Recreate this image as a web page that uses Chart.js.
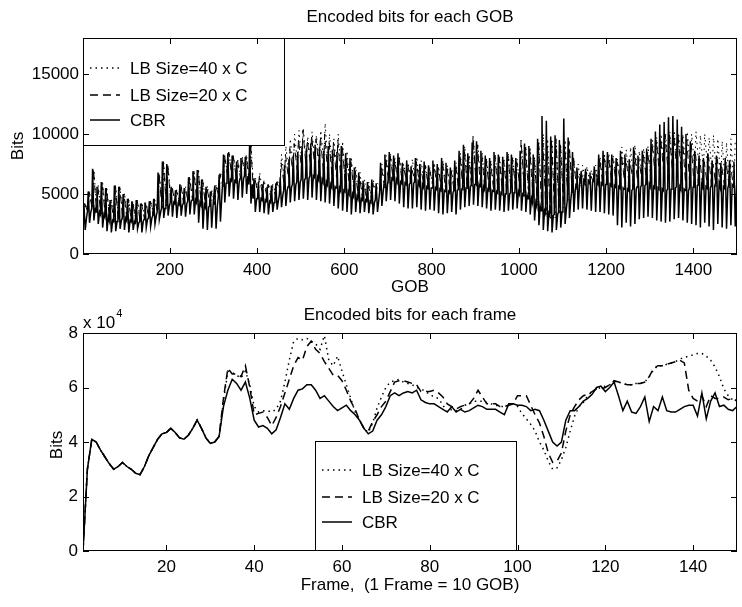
<!DOCTYPE html>
<html>
<head>
<meta charset="utf-8">
<script src="https://cdn.jsdelivr.net/npm/chart.js@4.4.1/dist/chart.umd.min.js"></script>
<style>
  body { margin: 0; background: #fff; }
  #gobWrap { position: absolute; left: 0; top: 0; width: 742px; height: 300px; }
  #frameWrap { position: absolute; left: 0; top: 300px; width: 742px; height: 307px; }
</style>
</head>
<body>
<div id="gobWrap"><canvas id="gobChart" width="742" height="300"></canvas></div>
<div id="frameWrap"><canvas id="frameChart" width="742" height="307"></canvas></div>
<script>
// ---- top plot: bits per GOB, read per frame (10 GOB each) ----
const gobTicksX = [200, 400, 600, 800, 1000, 1200, 1400];
const gobTicksY = [0, 5000, 10000, 15000];

// CBR spike tops, band level and spike bottoms for each frame
const cbrGobHigh = [
  4200, 5200, 7100, 5600, 6000, 5500, 4500, 5700, 5600, 5000,
  4600, 4400, 4500, 4200, 4300, 4400, 4600, 6800, 7700, 7500,
  5600, 5300, 5800, 5500, 6400, 6900, 7000, 6200, 5600, 5200,
  5700, 6600, 8300, 8400, 8200, 7700, 8000, 8100, 9300, 6300,
  6000, 5800, 5600, 5700, 5900, 6400, 7400, 7900, 8200, 8500,
  9000, 8800, 9200, 9100, 8900, 8600, 9000, 8700, 8500, 9000,
  8400, 8000, 7200, 6800, 6100, 6000, 6200, 5900, 7600, 8300,
  8500, 8200, 8400, 7600, 7800, 7300, 8000, 7500, 7700, 7400,
  7800, 7500, 8000, 7600, 7200, 7800, 8600, 9100, 8400, 9300,
  9400, 8600, 8200, 8000, 8500, 8300, 8100, 8500, 8300, 8000,
  8600, 9200, 9000, 8300, 9600, 11500, 11100, 9800, 9900, 9500,
  11300, 9700, 8500, 7200, 6900, 7100, 6800, 7300, 8300, 8600,
  8500, 8300, 8000, 8600, 8300, 7900, 8900, 8200, 8600, 8800,
  9600, 10200, 10800, 11000, 11400, 11500, 11200, 10600, 10000, 9400,
  8600, 8200, 8000, 8400, 7800, 8200, 7600, 8000, 7800, 7700
];
const cbrGobBand = [
  3000, 3500, 3800, 3500, 3300, 3100, 2800, 2700, 2800, 3000,
  2800, 2700, 2600, 2700, 2900, 3000, 3200, 3500, 3800, 4000,
  4300, 4200, 4100, 4200, 4400, 4500, 4300, 4100, 3900, 4000,
  4000, 4700, 5900, 6200, 6100, 6000, 6300, 6500, 5800, 4600,
  4600, 4500, 4400, 4300, 4500, 4900, 5300, 5600, 5800, 6000,
  6200, 6300, 6500, 6400, 6200, 6000, 5800, 5600, 5500, 5300,
  5200, 5000, 4800, 4600, 4500, 4400, 4300, 4500, 5200, 5800,
  6300, 6200, 6000, 5900, 5800, 5900, 6000, 5800, 5600, 5500,
  5500, 5400, 5300, 5200, 5100, 5300, 5400, 5500, 5600, 5800,
  5800, 5600, 5400, 5300, 5200, 5100, 5000, 5000, 5100, 5200,
  5000, 4900, 4600, 4300, 4000, 3600, 3400, 3200, 3300, 3500,
  3800, 4500, 5200, 5800, 6200, 6100, 6000, 6100, 5900, 5800,
  5800, 5700, 5600, 5500, 5400, 5300, 5400, 5600, 5700, 5800,
  5600, 5500, 5400, 5300, 5400, 5500, 5600, 5400, 5300, 5500,
  5700, 5800, 5600, 5500, 5700, 5900, 5600, 5500, 5800, 5700
];
const cbrGobLow = [
  2000, 2600, 2800, 2500, 2200, 1900, 1800, 1900, 2100, 2000,
  1800, 2000, 2100, 1800, 2200, 2300, 2500, 2900, 3000, 3200,
  3100, 3000, 3200, 3100, 3300, 3300, 2600, 2100, 2000, 2200,
  2100, 2700, 4300, 4800, 4600, 4500, 4700, 5000, 4200, 3500,
  3500, 3400, 3300, 3500, 3700, 3900, 4000, 4300, 4400, 4500,
  4600, 4500, 4700, 4500, 4400, 4300, 4200, 4000, 3800, 3600,
  3500, 3300, 3500, 3400, 3500, 3400, 3300, 3500, 4000, 4400,
  4500, 4400, 4200, 3900, 3800, 3800, 3900, 3700, 3600, 3700,
  3600, 3400, 3300, 3400, 3500, 3300, 3700, 3900, 4000, 4100,
  4000, 3900, 3800, 3600, 3700, 3600, 3500, 3600, 3700, 3800,
  3600, 3500, 3300, 2800, 2400, 2000, 1900, 1800, 2000, 2200,
  2500, 3000, 3500, 3700, 3800, 3700, 3600, 3500, 3500, 3400,
  3300, 3200, 2400, 2200, 2600, 2300, 2500, 2900, 3000, 3100,
  3000, 2800, 2700, 2600, 2700, 2900, 3000, 2800, 2600, 2500,
  2400, 2200, 2600, 2300, 2000, 2500, 2200, 2100, 2400, 2300
];

// LB 40 x C spike tops and spike bottoms per frame
const lb40GobHigh = [
  4200, 5100, 7000, 5700, 5900, 5400, 4600, 5600, 5500, 5100,
  4500, 4300, 4400, 4300, 4200, 4500, 4500, 6700, 7600, 7400,
  5500, 5400, 5700, 5600, 6300, 6800, 6900, 6100, 5700, 5300,
  5800, 6700, 8200, 8500, 8100, 7800, 8100, 8200, 9200, 6400,
  6800, 6200, 5900, 5800, 6200, 8300, 9000, 9600, 10000, 10300,
  10500, 9800, 10200, 9900, 10300, 10900, 10000, 9600, 10000, 9400,
  8600, 8100, 7300, 6800, 6200, 6000, 6200, 5900, 7500, 8200,
  8300, 8000, 8200, 7500, 7600, 7900, 8100, 7800, 7500, 7200,
  7600, 7300, 7800, 7400, 7100, 7600, 8400, 9000, 8300, 9600,
  9200, 8400, 8000, 7800, 8300, 8100, 7900, 8300, 8100, 7900,
  9200, 9000, 8800, 8100, 9300, 10000, 9600, 9400, 9200, 9000,
  9500, 8800, 7800, 7500, 7400, 7300, 7000, 7400, 8100, 8400,
  8400, 8200, 7900, 8900, 8700, 8900, 9100, 8600, 8800, 9000,
  9500, 9700, 10000, 10100, 10200, 10300, 10100, 10000, 10200, 10000,
  10200, 9900, 10000, 9700, 9900, 9600, 9400, 9300, 9600, 9500
];
const lb40GobBase = [
  3000, 3500, 3800, 3500, 3300, 3100, 2800, 2700, 2800, 3000,
  2800, 2700, 2600, 2700, 2900, 3000, 3200, 3500, 3800, 4000,
  4300, 4200, 4100, 4200, 4400, 4500, 4300, 4100, 3900, 4000,
  4100, 5000, 6300, 6400, 6300, 6200, 6400, 6600, 6000, 5000,
  5000, 5000, 4900, 4800, 5000, 5300, 6000, 6600, 7200, 7400,
  7500, 7400, 7600, 7500, 7300, 7600, 7000, 6800, 7000, 6400,
  5800, 5400, 5000, 4600, 4400, 4300, 4600, 5100, 5600, 6000,
  6200, 6300, 6200, 6100, 6100, 6000, 5900, 5800, 5700, 5600,
  5500, 5400, 5300, 5100, 5100, 5200, 5300, 5400, 5400, 5500,
  5500, 5500, 5400, 5400, 5300, 5300, 5300, 5300, 5400, 5300,
  5000, 4800, 4600, 4300, 4000, 3600, 3300, 3000, 3000, 3300,
  3800, 4400, 5000, 5300, 5400, 5700, 5800, 5900, 6000, 6000,
  6100, 6200, 6200, 6100, 6100, 6100, 6100, 6100, 6200, 6400,
  6600, 6800, 6800, 6800, 6900, 6900, 7000, 7100, 7100, 7200,
  7200, 7200, 7100, 7000, 6700, 6400, 6000, 5700, 5500, 5500
];

// LB 20 x C spike tops and spike bottoms per frame
const lb20GobHigh = [
  4200, 5200, 7100, 5600, 6000, 5500, 4500, 5700, 5600, 5000,
  4600, 4400, 4500, 4200, 4300, 4400, 4600, 6800, 7700, 7500,
  5600, 5300, 5800, 5500, 6400, 6900, 7000, 6200, 5600, 5200,
  5700, 6700, 8300, 8500, 8300, 7800, 8000, 8200, 9300, 6300,
  6400, 6000, 5800, 5700, 6000, 7600, 8300, 8800, 9200, 9600,
  10300, 9500, 9900, 9600, 9800, 10000, 9400, 9300, 9500, 9100,
  8100, 7700, 6900, 6500, 5800, 5700, 5900, 5600, 7300, 8000,
  8200, 7900, 8100, 7300, 7500, 7000, 7700, 7200, 7400, 7100,
  7500, 7200, 7700, 7300, 6900, 7500, 8300, 8800, 8100, 9800,
  9100, 8300, 7900, 7700, 8200, 8000, 7800, 8200, 8000, 7700,
  9500, 8900, 8700, 8000, 9300, 9200, 9000, 9500, 9600, 9200,
  9000, 9400, 8200, 6900, 6600, 6800, 6500, 7000, 8000, 8300,
  8200, 8000, 7700, 8300, 8000, 7600, 8600, 7900, 8300, 8500,
  9300, 9500, 9700, 9900, 10000, 10000, 9800, 9700, 9500, 9200,
  8300, 7900, 7700, 8100, 7500, 7900, 7300, 7700, 7500, 7400
];
const lb20GobBase = [
  3000, 3500, 3800, 3500, 3300, 3100, 2800, 2700, 2800, 3000,
  2800, 2700, 2600, 2700, 2900, 3000, 3200, 3500, 3800, 4000,
  4300, 4200, 4100, 4200, 4400, 4500, 4300, 4100, 3900, 4000,
  4100, 4900, 5600, 6600, 6400, 6400, 6300, 6700, 6000, 5000,
  5000, 5100, 4900, 4600, 4900, 5300, 5800, 6300, 6800, 7000,
  7000, 7400, 7600, 7300, 7200, 6900, 6700, 6400, 6400, 6200,
  5900, 5500, 5200, 4800, 4500, 4400, 4700, 5000, 5300, 5500,
  5800, 6200, 6200, 6200, 6200, 6100, 6100, 5800, 5800, 5800,
  5900, 5800, 5600, 5400, 5300, 5200, 5300, 5300, 5400, 5600,
  5800, 5600, 5400, 5400, 5400, 5300, 5300, 5300, 5400, 5700,
  5700, 5700, 5300, 5000, 4700, 4200, 3600, 3200, 3300, 3600,
  4400, 5000, 5300, 5500, 5700, 5700, 5800, 5900, 5900, 6000,
  6100, 6200, 6200, 6100, 6100, 6100, 6100, 6100, 6200, 6400,
  6700, 6800, 6800, 6800, 6900, 6900, 7000, 6900, 5900, 5600,
  5500, 5700, 5300, 5700, 5600, 5600, 5600, 5500, 5600, 5500
];

// ---- bottom plot: bits per frame, in units of 10^4 bits ----
const frameTicksX = [20, 40, 60, 80, 100, 120, 140];
const frameTicksY = [0, 2, 4, 6, 8];

const cbrFrame = [
  0.0, 3.0, 4.1, 4.0, 3.7, 3.45, 3.2, 3.0, 3.1, 3.25,
  3.1, 3.0, 2.85, 2.8, 3.1, 3.5, 3.8, 4.1, 4.3, 4.35,
  4.5, 4.35, 4.15, 4.1, 4.25, 4.5, 4.8, 4.5, 4.15, 3.95,
  4.0, 4.2, 5.3, 5.9, 6.3, 6.15, 5.9, 6.2, 5.6, 4.8,
  4.55, 4.6, 4.5, 4.3, 4.45, 4.9, 5.4, 5.2, 5.6, 5.9,
  5.95, 6.1, 6.1, 5.9, 5.6, 5.7, 5.5, 5.3, 5.15, 5.25,
  5.35, 5.15, 5.0, 4.8, 4.5, 4.3, 4.4, 4.8, 5.0, 5.3,
  5.7, 5.8, 5.7, 5.8, 5.85, 5.8, 5.9, 5.55, 5.45, 5.4,
  5.4, 5.3, 5.2, 5.1, 5.3, 5.1, 5.2, 5.1, 5.15, 5.25,
  5.35, 5.3, 5.2, 5.2, 5.2, 5.1, 5.0, 5.4, 5.4, 5.35,
  5.35, 5.3, 5.15, 5.2, 5.15, 4.8, 4.4, 4.0, 3.85, 4.0,
  4.8, 5.15, 5.15, 5.3, 5.5, 5.6, 5.75, 6.0, 6.05, 5.85,
  6.0, 6.2, 5.7, 5.15, 5.5, 5.1, 5.05, 5.3, 5.65, 4.75,
  5.3, 5.15, 5.65, 5.15, 5.1, 5.1, 5.2, 5.3, 5.35, 5.35,
  4.95, 5.8, 4.85, 5.5, 5.8, 5.3, 5.35, 5.2, 5.15, 5.3
];
const lb20Frame = [
  0.0, 3.0, 4.1, 4.0, 3.7, 3.45, 3.2, 3.0, 3.1, 3.25,
  3.1, 3.0, 2.85, 2.8, 3.1, 3.5, 3.8, 4.1, 4.3, 4.35,
  4.5, 4.35, 4.15, 4.1, 4.25, 4.5, 4.8, 4.5, 4.15, 3.95,
  4.0, 4.2, 5.6, 6.7, 6.5, 6.5, 6.4, 6.8, 6.0, 5.0,
  5.05, 5.1, 4.9, 4.6, 4.9, 5.3, 5.8, 6.3, 6.8, 7.1,
  7.0, 7.5, 7.7, 7.4, 7.25, 6.95, 6.7, 6.45, 6.45, 6.25,
  5.9, 5.5, 5.2, 4.8, 4.5, 4.4, 4.75, 5.0, 5.3, 5.5,
  5.85, 6.2, 6.25, 6.25, 6.2, 6.15, 6.1, 5.85, 5.85, 5.85,
  5.9, 5.8, 5.65, 5.4, 5.3, 5.2, 5.3, 5.35, 5.4, 5.6,
  5.9, 5.65, 5.4, 5.4, 5.4, 5.3, 5.3, 5.35, 5.4, 5.7,
  5.7, 5.7, 5.35, 5.0, 4.7, 4.2, 3.6, 3.25, 3.3, 3.6,
  4.4, 5.0, 5.3, 5.55, 5.7, 5.75, 5.85, 5.95, 5.95, 6.0,
  6.1, 6.25, 6.2, 6.15, 6.1, 6.1, 6.15, 6.15, 6.2, 6.4,
  6.7, 6.8, 6.8, 6.85, 6.9, 6.95, 7.0, 6.9, 5.9, 5.6,
  5.5, 5.7, 5.3, 5.7, 5.6, 5.6, 5.65, 5.55, 5.6, 5.5
];
const lb40Frame = [
  0.0, 3.0, 4.1, 4.0, 3.7, 3.45, 3.2, 3.0, 3.1, 3.25,
  3.1, 3.0, 2.85, 2.8, 3.1, 3.5, 3.8, 4.1, 4.3, 4.35,
  4.5, 4.35, 4.15, 4.1, 4.25, 4.5, 4.8, 4.5, 4.15, 3.95,
  4.0, 4.2, 5.5, 6.6, 6.55, 6.45, 6.35, 6.6, 6.1, 5.3,
  5.1, 5.15, 5.15, 5.1, 5.2, 5.5, 6.2, 7.0, 7.7, 7.8,
  7.75, 7.8, 7.7, 7.6, 7.4, 7.9, 7.0, 6.8, 7.15, 6.6,
  6.1, 5.6, 5.1, 4.8, 4.5, 4.35, 4.7, 5.25, 5.65, 6.0,
  6.2, 6.25, 6.3, 6.2, 6.15, 6.1, 6.0, 5.95, 5.85, 5.75,
  5.65, 5.6, 5.35, 5.1, 5.2, 5.15, 5.2, 5.35, 5.4, 5.5,
  5.5, 5.5, 5.45, 5.4, 5.35, 5.3, 5.3, 5.35, 5.4, 5.3,
  5.05, 4.85, 4.65, 4.4, 4.0, 3.7, 3.3, 3.0, 3.05, 3.35,
  3.8, 4.4, 4.95, 5.3, 5.45, 5.7, 5.85, 5.95, 6.0, 6.05,
  6.1, 6.2, 6.2, 6.15, 6.1, 6.1, 6.15, 6.15, 6.2, 6.4,
  6.65, 6.8, 6.8, 6.85, 6.9, 6.95, 7.05, 7.1, 7.15, 7.2,
  7.25, 7.25, 7.15, 7.0, 6.75, 6.4, 5.95, 5.7, 5.55, 5.5
];

const seriesNames = ['LB Size=40 x C', 'LB Size=20 x C', 'CBR'];
const dotted = [1.5, 4];
const dashed = [8, 5];

const FONT = '"Liberation Sans", Arial, Helvetica, sans-serif';
Chart.defaults.font.family = FONT;
Chart.defaults.font.size = 17;
Chart.defaults.color = '#000';

// every frame holds 10 GOBs; put each level at its GOB inside the frame
function gobPoints(levels) {
  const pts = [];
  for (let f = 0; f < levels[0][1].length; f++) {
    levels.forEach(([gob, values]) => pts.push({ x: f * 10 + gob, y: values[f] }));
  }
  return pts;
}

function framePoints(values) {
  return values.map((v, i) => ({ x: i + 1, y: v }));
}

function linearAxis(min, max, tickValues, fit, padding) {
  return {
    type: 'linear',
    min: min,
    max: max,
    afterBuildTicks: scale => { scale.ticks = tickValues.map(v => ({ value: v })); },
    afterFit: fit,
    grid: { display: false, drawTicks: false },
    border: { display: false },
    ticks: { padding: padding, maxRotation: 0, autoSkip: false, callback: v => String(v) }
  };
}

// box, inward ticks, legend and labels in the old matlab look
function matlabAxes(cfg) {
  return {
    id: 'matlabAxes',
    afterDatasetsDraw(chart) {
      const { ctx, chartArea: a, scales } = chart;
      ctx.save();
      // legend
      const lg = cfg.legend;
      const lx = a.left + lg.x, ly = a.top + lg.y;
      ctx.fillStyle = '#fff';
      ctx.fillRect(lx, ly, lg.w, lg.h);
      ctx.strokeStyle = '#000';
      ctx.lineWidth = 1;
      ctx.strokeRect(lx + 0.5, ly + 0.5, lg.w - 1, lg.h - 1);
      const dashes = [dotted, dashed, []];
      ctx.font = '17px ' + FONT;
      ctx.textBaseline = 'middle';
      ctx.textAlign = 'left';
      seriesNames.forEach((name, i) => {
        const y = ly + lg.rows[i];
        ctx.beginPath();
        ctx.setLineDash(dashes[i]);
        ctx.lineWidth = 1.5;
        ctx.moveTo(lx + 7, y);
        ctx.lineTo(lx + 37, y);
        ctx.stroke();
        ctx.setLineDash([]);
        ctx.fillStyle = '#000';
        ctx.fillText(name, lx + 47, y + 1);
      });
      // frame
      ctx.lineWidth = 1;
      ctx.strokeRect(a.left + 0.5, a.top + 0.5, a.width - 1, a.height - 1);
      ctx.beginPath();
      scales.x.ticks.forEach(t => {
        const x = Math.round(scales.x.getPixelForValue(t.value)) + 0.5;
        ctx.moveTo(x, a.bottom); ctx.lineTo(x, a.bottom - 6);
        ctx.moveTo(x, a.top); ctx.lineTo(x, a.top + 6);
      });
      scales.y.ticks.forEach(t => {
        const y = Math.round(scales.y.getPixelForValue(t.value)) + 0.5;
        ctx.moveTo(a.left, y); ctx.lineTo(a.left + 6, y);
        ctx.moveTo(a.right, y); ctx.lineTo(a.right - 6, y);
      });
      ctx.stroke();
      ctx.restore();
    },
    afterDraw(chart) {
      const { ctx, chartArea: a } = chart;
      ctx.save();
      ctx.fillStyle = '#000';
      ctx.font = '17px ' + FONT;
      ctx.textBaseline = 'middle';
      ctx.textAlign = 'center';
      const cx = (a.left + a.right) / 2;
      ctx.fillText(cfg.title, cx, a.top - cfg.titleGap);
      ctx.fillText(cfg.xLabel, cx, a.bottom + cfg.xLabelGap);
      ctx.save();
      ctx.translate(cfg.yLabelX, (a.top + a.bottom) / 2 + cfg.yLabelShift);
      ctx.rotate(-Math.PI / 2);
      ctx.fillText('Bits', 0, 0);
      ctx.restore();
      if (cfg.exponent) {
        ctx.textAlign = 'left';
        ctx.fillText('x 10', a.left, a.top - 10);
        const w = ctx.measureText('x 10').width;
        ctx.font = '11px ' + FONT;
        ctx.fillText(cfg.exponent, a.left + w + 1, a.top - 19);
      }
      ctx.restore();
    }
  };
}

function lineSet(label, data, dash, width) {
  return {
    label: label,
    data: data,
    borderColor: '#000',
    borderWidth: width,
    borderDash: dash,
    pointRadius: 0,
    tension: 0,
    fill: false
  };
}

const commonOptions = {
  responsive: false,
  animation: false,
  devicePixelRatio: 1,
  events: [],
  plugins: { legend: { display: false }, tooltip: { enabled: false } }
};

new Chart(document.getElementById('gobChart'), {
  type: 'line',
  data: {
    datasets: [
      lineSet(seriesNames[2], gobPoints([[1, cbrGobBand], [3, cbrGobHigh], [6, cbrGobLow], [9, cbrGobBand]]), [], 1.5),
      lineSet(seriesNames[1], gobPoints([[2, lb20GobBase], [5, lb20GobHigh]]), dashed, 1),
      lineSet(seriesNames[0], gobPoints([[3, lb40GobBase], [6, lb40GobHigh]]), dotted, 1)
    ]
  },
  options: Object.assign({}, commonOptions, {
    layout: { padding: { left: 0, right: 5, top: 38, bottom: 0 } },
    scales: {
      x: linearAxis(1, 1500, gobTicksX, s => { s.height = 46; }, 6),
      y: linearAxis(0, 18000, gobTicksY, s => { s.width = 83; }, 4)
    }
  }),
  plugins: [matlabAxes({
    title: 'Encoded bits for each GOB', titleGap: 21,
    xLabel: 'GOB', xLabelGap: 33,
    yLabelX: 18, yLabelShift: 0,
    legend: { x: 0, y: 0, w: 202, h: 108, rows: [30, 57, 82] }
  })]
});

new Chart(document.getElementById('frameChart'), {
  type: 'line',
  data: {
    datasets: [
      lineSet(seriesNames[2], framePoints(cbrFrame), [], 1.5),
      lineSet(seriesNames[1], framePoints(lb20Frame), dashed, 1.5),
      lineSet(seriesNames[0], framePoints(lb40Frame), dotted, 1.5)
    ]
  },
  options: Object.assign({}, commonOptions, {
    layout: { padding: { left: 0, right: 5, top: 33, bottom: 0 } },
    scales: {
      x: linearAxis(1, 150, frameTicksX, s => { s.height = 56; }, 6),
      y: linearAxis(0, 8, frameTicksY, s => { s.width = 83; }, 5)
    }
  }),
  plugins: [matlabAxes({
    title: 'Encoded bits for each frame', titleGap: 18,
    xLabel: 'Frame,  (1 Frame = 10 GOB)', xLabelGap: 34,
    yLabelX: 57, yLabelShift: 3,
    exponent: '4',
    legend: { x: 232, y: 108, w: 202, h: 110, rows: [29, 56, 81] }
  })]
});
</script>
</body>
</html>
